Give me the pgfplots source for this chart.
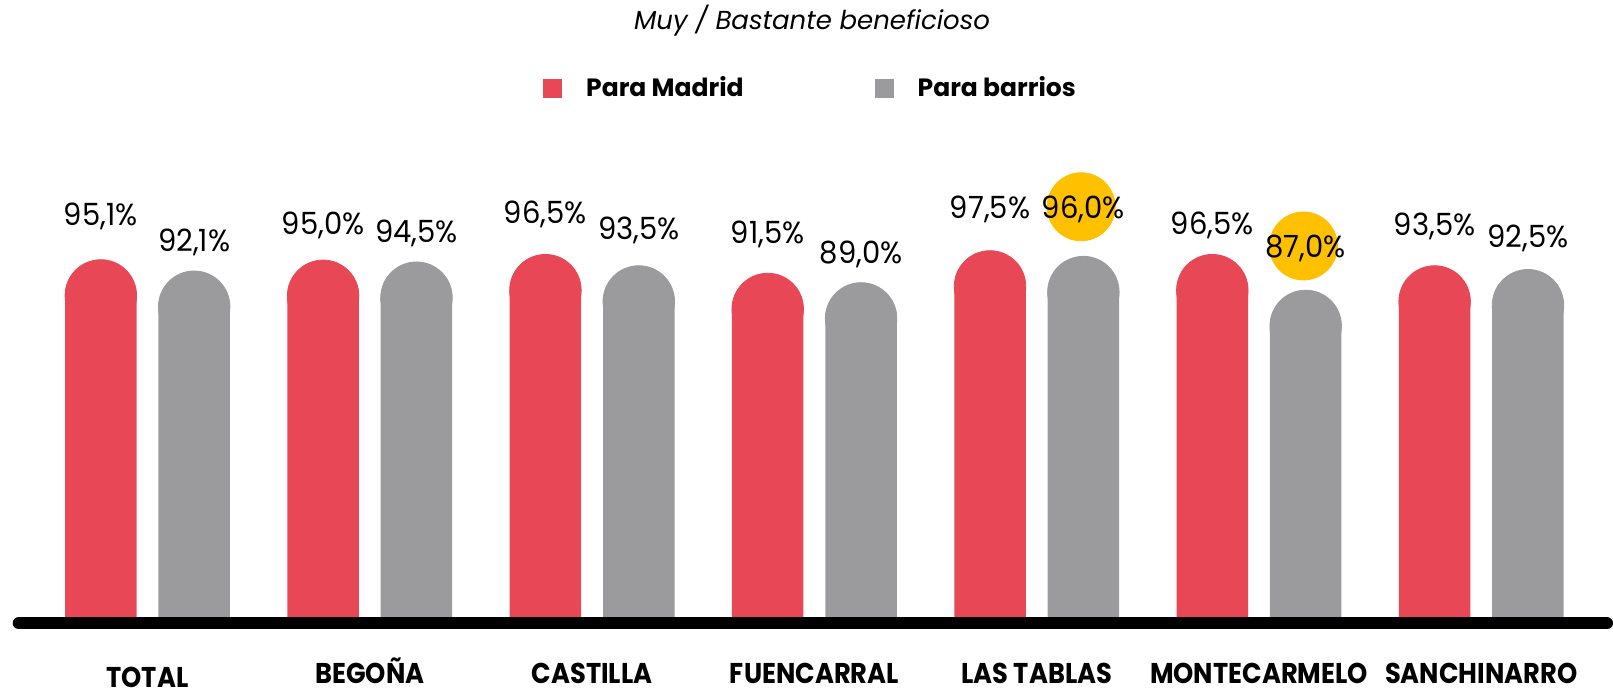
\documentclass[border=0pt]{standalone}
\usepackage{fontspec}
\usepackage{pgfplots}
\usepackage{pgfplotstable}
\pgfplotsset{compat=1.18}
\setmainfont{Poppins}
\newfontfamily\valfont{Poppins}[FakeStretch=0.95]
\newfontfamily\catfont{Poppins}[FakeStretch=0.9]

\definecolor{madred}{RGB}{232,71,85}
\definecolor{barsgray}{RGB}{155,155,157}
\definecolor{hlyellow}{RGB}{255,192,0}

% x: district, mad/bar: values, lm/lb: label baselines
\pgfplotstableread{
x mad  bar  lm     lb
0 95.1 92.1 104.07 97.07
1 95.0 94.5 101.68 99.63
2 96.5 93.5 104.52 100.27
3 91.5 89.0 99.20  93.88
4 97.5 96.0 105.93 105.85
5 96.5 87.0 101.68 95.48
6 93.5 92.5 101.41 98.14
}\datatab

\pgfplotsset{
  sqleg/.style={legend image code/.code={\fill[##1] (0pt,-4.75pt) rectangle (9.5pt,4.75pt);}},
  capbar/.style={ybar, bar width=35.75pt, bar shift=0pt, draw=none, fill=#1, forget plot},
  capdot/.style={only marks, mark=*, mark size=17.875pt, color=#1, mark options={draw=none, fill=#1}, forget plot},
  vallab/.style={draw=none, mark=none, forget plot, point meta=explicit,
    nodes near coords={\pgfmathprintnumber[fixed, fixed zerofill, precision=1, use comma, assume math mode=true]{\pgfplotspointmeta}\%},
    every node near coord/.append style={text=black, inner sep=0pt, text depth=0pt, anchor=south,
      font=\valfont\fontsize{15.3}{18}\selectfont}},
}

\begin{document}
\begin{tikzpicture}
\path[use as bounding box] (0,0) rectangle (806.5pt,345pt);
\begin{axis}[
  at={(9.35pt,33.35pt)}, anchor=south west,
  scale only axis, width=794.15pt, height=311.65pt,
  xmin=-0.5794, xmax=6.5655, ymin=-1.6, ymax=164.17,
  clip=false,
  axis line style={draw=none},
  ytick=\empty,
  xtick={0,...,6},
  xticklabels={\raisebox{-2pt}{TOTAL}, BEGOÑA, CASTILLA, FUENCARRAL, LAS TABLAS, MONTECARMELO, SANCHINARRO},
  major tick length=0pt,
  x tick label style={font=\catfont\bfseries\fontsize{14.3}{16}\selectfont, anchor=base, inner sep=0pt, yshift=-30pt},
  title={Muy / Bastante beneficioso},
  title style={at={(0.4995,0.933)}, anchor=base, yshift=0pt, inner sep=0pt, font=\itshape\fontsize{13}{16}\selectfont},
  legend columns=2,
  legend style={draw=none, fill=none, inner sep=0pt, outer sep=0pt,
    at={(0.4979,0.8588)}, anchor=center,
    font=\bfseries\fontsize{12.5}{15}\selectfont,
    nodes={inner sep=0pt},
    /tikz/every odd column/.append style={column sep=12pt},
    /tikz/every even column/.append style={column sep=65.5pt}},
]
% bars: rectangle up to value minus cap radius, then a round cap
\addplot[capbar=madred] table[x expr=\thisrow{x}-0.21, y expr=\thisrow{mad}-9.51] {\datatab};
\addplot[capdot=madred] table[x expr=\thisrow{x}-0.21, y expr=\thisrow{mad}-9.51] {\datatab};
\addplot[capbar=barsgray] table[x expr=\thisrow{x}+0.21, y expr=\thisrow{bar}-9.51] {\datatab};
\addplot[capdot=barsgray] table[x expr=\thisrow{x}+0.21, y expr=\thisrow{bar}-9.51] {\datatab};

% baseline
\addplot[black, line width=6pt, line cap=round, forget plot] coordinates {(-0.5794,-1.6) (6.5655,-1.6)};

% highlighted values
\addplot[only marks, mark=*, mark size=17pt, color=hlyellow, mark options={draw=none, fill=hlyellow}, forget plot]
  coordinates {(4.2,109.18) (5.2,98.75)};

% value labels
\addplot[vallab] table[x expr=\thisrow{x}-0.21, y=lm, meta=mad] {\datatab};
\addplot[vallab] table[x expr=\thisrow{x}+0.21, y=lb, meta=bar] {\datatab};

\addlegendimage{sqleg, fill=madred, draw=none}
\addlegendentry{Para Madrid}
\addlegendimage{sqleg, fill=barsgray, draw=none}
\addlegendentry{Para barrios}
\end{axis}
\end{tikzpicture}
\end{document}
